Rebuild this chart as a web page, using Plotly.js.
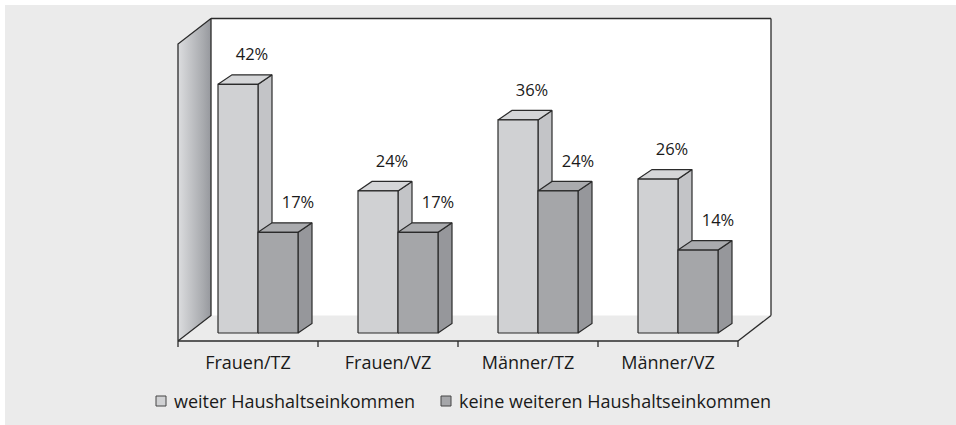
<!DOCTYPE html>
<html>
<head>
<meta charset="utf-8">
<script src="https://cdn.plot.ly/plotly-3.0.1.min.js"></script>
<style>html,body{margin:0;padding:0;background:#fff;}#chart{width:956px;height:425px;}</style>
</head>
<body>
<div id="chart"></div>
<script>
// ---- data ----
const categories = ['Frauen/TZ', 'Frauen/VZ', 'Männer/TZ', 'Männer/VZ'];
const seriesNames = ['weiter Haushaltseinkommen', 'keine weiteren Haushaltseinkommen'];
const valuesWeiter = [42, 24, 36, 26];
const valuesKeine = [17, 17, 24, 14];

// ---- geometry / style ----
const L = 170, T = 10, W = 610, H = 340;          // plot area in px
const PXX = 140, PXY = 5.92;                       // px per data unit
const X0 = -0.5 - 8 / PXX, X1 = X0 + W / PXX;
const Y1 = 323 / PXY, Y0 = Y1 - H / PXY;
const yAxis = -8 / PXY;                             // floor front line
const wallDX = 33 / PXX, wallDY = 25.5 / PXY;       // wall depth
const yTop = 314.5 / PXY;                           // top of back wall
const barW = 40 / PXX, dx = 14 / PXX, dy = 9.5 / PXY;
const offs = [-30 / PXX, 10 / PXX];                 // front-face left edge offsets
const labelShift = [0, 6 / PXX];
const labelGap = 19 / PXY;
const font = 'Open Sans, Lato, sans-serif';
const ink = '#2b2b2b';
const faceCols = [
  {front: '#d0d1d3', top: '#d5d6d8', side: '#c3c4c7'},
  {front: '#a5a6a9', top: '#aaabae', side: '#96979b'}
];
const px = x => (x - L) / W;
const py = y => (T + H - y) / H;

const traces = [];
// left wall with gradient
traces.push({
  type: 'scatter', mode: 'lines', hoverinfo: 'skip', showlegend: false,
  x: [-0.5, -0.5, -0.5 + wallDX, -0.5 + wallDX, -0.5],
  y: [yAxis, yTop - wallDY, yTop, yAxis + wallDY, yAxis],
  fill: 'toself',
  fillgradient: {type: 'horizontal', colorscale: [[0, '#dcdddf'], [0.75, '#a9abaf'], [1, '#96989d']]},
  line: {color: ink, width: 1.3}
});

function faces(vals, s) {
  const f = {front: {x: [], y: []}, top: {x: [], y: []}, side: {x: [], y: []}};
  vals.forEach((v, i) => {
    const a = i + offs[s], b = a + barW;
    f.side.x.push(b, b, b + dx, b + dx, b, null);
    f.side.y.push(0, v, v + dy, dy, 0, null);
    f.top.x.push(a, a + dx, b + dx, b, a, null);
    f.top.y.push(v, v + dy, v + dy, v, v, null);
    f.front.x.push(a, a, b, b, a, null);
    f.front.y.push(0, v, v, 0, 0, null);
  });
  ['side', 'top', 'front'].forEach(k => traces.push({
    type: 'scatter', mode: 'lines', hoverinfo: 'skip', showlegend: false,
    x: f[k].x, y: f[k].y, fill: 'toself', fillcolor: faceCols[s][k],
    line: {color: ink, width: 1.2}, connectgaps: false
  }));
}
faces(valuesWeiter, 0);
faces(valuesKeine, 1);

[valuesWeiter, valuesKeine].forEach((vals, s) => {
  traces.push({
    type: 'scatter', mode: 'text', hoverinfo: 'skip', showlegend: false,
    x: vals.map((v, i) => i + offs[s] + barW / 2 + dx + labelShift[s]),
    y: vals.map(v => v + dy + labelGap),
    text: vals.map(v => v + '%'),
    textposition: 'middle center',
    textfont: {family: font, size: 16.5, color: '#1a1a1a'},
    cliponaxis: false
  });
});

const shapes = [
  // grey background
  {type: 'rect', xref: 'paper', yref: 'paper', x0: px(5), x1: px(960), y0: py(5), y1: py(430),
   fillcolor: '#ebebeb', line: {width: 0}, layer: 'below'},
  // back wall
  {type: 'rect', xref: 'x', yref: 'y', x0: -0.5 + wallDX, x1: 3.5 + wallDX, y0: yAxis + wallDY, y1: yTop,
   fillcolor: '#ffffff', line: {width: 0}, layer: 'below'},
  {type: 'line', xref: 'x', yref: 'y', x0: -0.5 + wallDX, x1: 3.5 + wallDX, y0: yTop, y1: yTop,
   line: {color: ink, width: 1.3}, layer: 'below'},
  {type: 'line', xref: 'x', yref: 'y', x0: 3.5 + wallDX, x1: 3.5 + wallDX, y0: yTop, y1: yAxis + wallDY,
   line: {color: ink, width: 1.3}, layer: 'below'},
  // floor right edge
  {type: 'line', xref: 'x', yref: 'y', x0: 3.5, x1: 3.5 + wallDX, y0: yAxis, y1: yAxis + wallDY,
   line: {color: ink, width: 1.3}, layer: 'below'},
  // axis line
  {type: 'line', xref: 'x', yref: 'y', x0: -0.5, x1: 3.5, y0: yAxis, y1: yAxis,
   line: {color: ink, width: 1.3}, layer: 'above'}
];
// ticks at category boundaries
categories.concat(['']).forEach((c, i) => shapes.push({
  type: 'line', xref: 'x', yref: 'y', x0: i - 0.5, x1: i - 0.5, y0: yAxis, y1: yAxis - 6 / PXY,
  line: {color: ink, width: 1.3}, layer: 'above'
}));

// custom legend
const legendPos = [{sq: 156, tx: 172}, {sq: 441, tx: 457}];
const annotations = [];
seriesNames.forEach((name, s) => {
  shapes.push({type: 'rect', xref: 'paper', yref: 'paper',
    x0: px(legendPos[s].sq), x1: px(legendPos[s].sq + 10), y0: py(396), y1: py(406),
    fillcolor: faceCols[s].front, line: {color: '#444', width: 1}});
  annotations.push({xref: 'paper', yref: 'paper', x: px(legendPos[s].tx), y: py(401),
    xanchor: 'left', yanchor: 'middle', showarrow: false, text: name,
    font: {family: font, size: 18, color: '#1a1a1a'}});
});

const layout = {
  width: 956, height: 425,
  margin: {l: L, r: 956 - L - W, t: T, b: 425 - T - H, pad: 0},
  paper_bgcolor: '#ffffff', plot_bgcolor: 'rgba(0,0,0,0)',
  showlegend: false,
  xaxis: {range: [X0, X1], tickvals: [0, 1, 2, 3], ticktext: categories, ticks: '',
    showline: false, zeroline: false, showgrid: false, fixedrange: true,
    tickfont: {family: font, size: 18, color: '#1a1a1a'}},
  yaxis: {range: [Y0, Y1], visible: false, fixedrange: true},
  shapes: shapes, annotations: annotations
};
Plotly.newPlot('chart', traces, layout, {displayModeBar: false, staticPlot: true});
</script>
</body>
</html>
